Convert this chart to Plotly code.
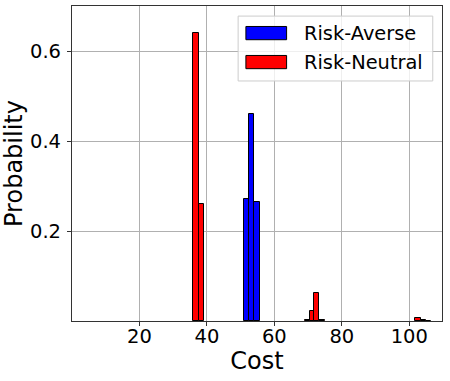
import plotly.graph_objects as go

# histogram bins (bin centre, probability)
neutral_cost = [36.75, 38.35, 69.8, 71.2, 72.6, 74.1, 102.6, 104.2, 105.8]
neutral_prob = [0.641, 0.261, 0.002, 0.022, 0.062, 0.002, 0.006, 0.003, 0.001]
averse_cost = [51.75, 53.3, 54.85]
averse_prob = [0.271, 0.461, 0.265]

series = ["Risk-Averse", "Risk-Neutral"]
colors = ["#0000ff", "#ff0000"]
bin_width = 1.55

x_ticks = [20, 40, 60, 80, 100]
y_ticks = [0.2, 0.4, 0.6]

FONT = "DejaVu Sans"

fig = go.Figure()
fig.add_trace(go.Bar(x=averse_cost, y=averse_prob, width=bin_width, name=series[0],
                     marker=dict(color=colors[0], line=dict(color="black", width=1))))
fig.add_trace(go.Bar(x=neutral_cost, y=neutral_prob, width=bin_width, name=series[1],
                     marker=dict(color=colors[1], line=dict(color="black", width=1))))

axis_common = dict(showline=True, linecolor="#333333", linewidth=1.2, mirror=True,
                   showgrid=True, gridcolor="#b0b0b0", gridwidth=1, zeroline=False,
                   ticks="outside", ticklen=4, tickcolor="#333333", automargin=False,
                   tickfont=dict(family=FONT, size=19.5, color="black"))
fig.update_xaxes(range=[0, 109.7], tickvals=x_ticks, ticklabelstandoff=-7,
                 title=dict(text="Cost", font=dict(family=FONT, size=24, color="black"), standoff=2),
                 **axis_common)
fig.update_yaxes(range=[0, 0.7], tickvals=y_ticks, tickformat=".1f", ticklabelstandoff=2,
                 title=dict(text="Probability", font=dict(family=FONT, size=24, color="black"), standoff=0),
                 **axis_common)

# matplotlib-style legend box drawn by hand so the swatches keep their wide shape
fig.add_shape(type="rect", xref="paper", yref="paper", x0=0.449, x1=0.975, y0=0.762, y1=0.968,
              fillcolor="rgba(255,255,255,0.8)", line=dict(color="#cccccc", width=1))
rows_y = [0.914, 0.822]
for name, col, yc in zip(series, colors, rows_y):
    fig.add_shape(type="rect", xref="paper", yref="paper", x0=0.470, x1=0.580,
                  y0=yc - 0.021, y1=yc + 0.021, fillcolor=col, line=dict(color="black", width=1))
    fig.add_annotation(x=0.622, y=yc, xref="paper", yref="paper", text=name, showarrow=False,
                       xanchor="left", yanchor="middle",
                       font=dict(family=FONT, size=19.4, color="black"))

fig.update_layout(width=450, height=381, showlegend=False, barmode="overlay", bargap=0,
                  plot_bgcolor="white", paper_bgcolor="white",
                  margin=dict(l=72, r=8, t=6, b=60))

# drop the default 8px body margin so the figure sits at the window's corner
fig.write_html("out.html", config={"displayModeBar": False},
               post_script="document.body.style.margin='0';")
